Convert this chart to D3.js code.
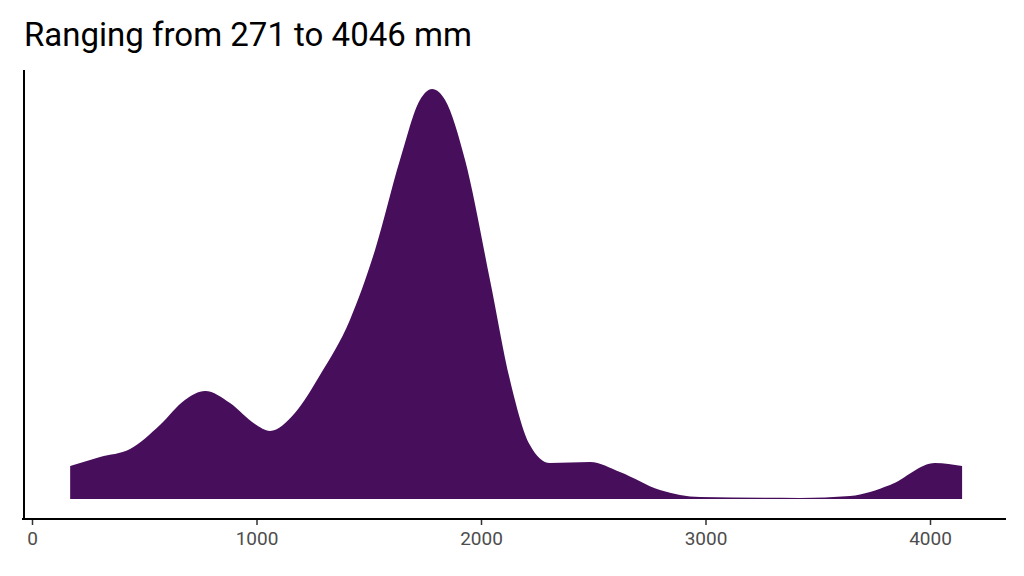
<!DOCTYPE html>
<html><head><meta charset="utf-8">
<script src="https://cdn.jsdelivr.net/npm/d3@7"></script>
<style>body{margin:0;background:#fff}</style>
</head><body>
<svg id="chart" width="1024" height="576"></svg>
<script>
// density curve (value in mm, relative density)
var xs = [170,303,437,570,681,771,882,993,1060,1171,1283,1416,1528,1639,1728,1782,1840,1929,2040,2129,2218,2307,2486,2619,2797,2976,3421,3644,3822,4022,4143];
var ds = [33,42,50,74,99,108,96,75,68,86,124,179,249,339,399,410,399,339,219,119,54,36,37,27,9,2,1,3,14,36,33];
var ticks = [0,1000,2000,3000,4000];
var title = "Ranging from 271 to 4046 mm";

var svg = d3.select("#chart");
var x = d3.scaleLinear().domain([0,4000]).range([32,930]);
var y = d3.scaleLinear().domain([0,410]).range([499,89]);

var pts = xs.map(function(v,i){ return [v, ds[i]]; });
var area = d3.area()
    .x(function(d){ return x(d[0]); })
    .y0(y(0))
    .y1(function(d){ return y(d[1]); })
    .curve(d3.curveMonotoneX);

svg.append("path").datum(pts).attr("d", area).attr("fill", "#470e5c");

// axes
var xAxis = svg.append("g").attr("transform","translate(0,519)")
    .call(d3.axisBottom(x).tickValues(ticks).tickSize(6).tickSizeOuter(0).tickFormat(d3.format("d")));
xAxis.select(".domain").remove();
xAxis.selectAll("line").attr("stroke","#333").attr("stroke-width",1.5);
xAxis.selectAll("text").attr("fill","#4d4d4d").attr("font-size",19)
    .attr("font-family","Roboto, sans-serif").attr("dy","0.9em");

svg.append("line").attr("x1",22).attr("x2",1006).attr("y1",519).attr("y2",519)
    .attr("stroke","#000").attr("stroke-width",2);
svg.append("line").attr("x1",24).attr("x2",24).attr("y1",70).attr("y2",520)
    .attr("stroke","#000").attr("stroke-width",2);

svg.append("text").attr("x",24).attr("y",46).text(title)
    .attr("font-family","Roboto, sans-serif").attr("font-size",33).attr("fill","#000");
</script>
</body></html>
